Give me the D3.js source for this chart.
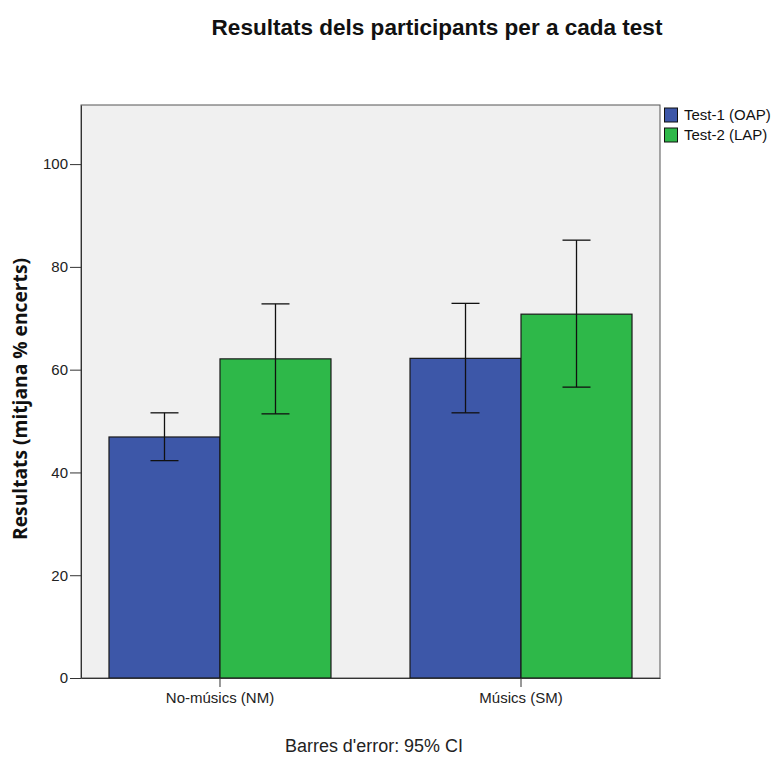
<!DOCTYPE html>
<html><head><meta charset="utf-8">
<script src="https://cdn.jsdelivr.net/npm/d3@7"></script>
<style>body{margin:0;background:#fff;} text{font-family:"Liberation Sans",Arial,sans-serif;}</style>
</head><body>
<svg id="c" width="775" height="758"></svg>
<script>
const categories = ["No-músics (NM)", "Músics (SM)"];
const seriesNames = ["Test-1 (OAP)", "Test-2 (LAP)"];
const seriesColors = ["#3d57a8", "#2eb849"];
const means = [[46.9, 62.1], [62.2, 70.8]];          // [category][series]
const ciLow = [[42.3, 51.4], [51.6, 56.6]];
const ciHigh = [[51.6, 72.8], [72.9, 85.2]];
const yTicks = [0, 20, 40, 60, 80, 100];

const svg = d3.select("#c");
const L = 81, R = 660, T = 105, B = 678;

const x = d3.scaleBand().domain(categories).range([L, R]).paddingInner(0.2625).paddingOuter(0.093);
const xs = d3.scaleBand().domain(seriesNames).range([0, x.bandwidth()]);
const y = d3.scaleLinear().domain([0, 111.5]).range([B, T]);

function fitWidth(sel, w) {
  const n = sel.node();
  const cur = n.getComputedTextLength();
  const fs = parseFloat(sel.attr("font-size"));
  sel.attr("font-size", fs * w / cur);
}

svg.append("rect").attr("x", L).attr("y", T).attr("width", R - L).attr("height", B - T)
  .attr("fill", "#f0f0f0").attr("stroke", "#555").attr("stroke-width", 1);

const g = svg.append("g");
categories.forEach((c, ci) => {
  seriesNames.forEach((s, si) => {
    const bx = x(c) + xs(s);
    g.append("rect").attr("x", bx).attr("y", y(means[ci][si]))
      .attr("width", xs.bandwidth()).attr("height", y(0) - y(means[ci][si]))
      .attr("fill", seriesColors[si]).attr("stroke", "#1a1a1a").attr("stroke-width", 1.2);
  });
});
categories.forEach((c, ci) => {
  seriesNames.forEach((s, si) => {
    const cx = x(c) + xs(s) + xs.bandwidth() / 2;
    const e = g.append("g").attr("stroke", "#111").attr("stroke-width", 1.3);
    e.append("line").attr("x1", cx).attr("x2", cx).attr("y1", y(ciLow[ci][si])).attr("y2", y(ciHigh[ci][si]));
    e.append("line").attr("x1", cx - 14).attr("x2", cx + 14).attr("y1", y(ciLow[ci][si])).attr("y2", y(ciLow[ci][si]));
    e.append("line").attr("x1", cx - 14).attr("x2", cx + 14).attr("y1", y(ciHigh[ci][si])).attr("y2", y(ciHigh[ci][si]));
  });
});

// y axis
const ya = svg.append("g").attr("transform", `translate(${L},0)`)
  .call(d3.axisLeft(y).tickValues(yTicks).tickSize(11).tickPadding(2).tickSizeOuter(0));
ya.select(".domain").attr("stroke", "#333");
ya.selectAll(".tick line").attr("stroke", "#333");
ya.selectAll(".tick text").attr("font-size", 15).attr("fill", "#222").attr("font-family", "Liberation Sans, Arial, sans-serif");

// x axis
const xa = svg.append("g").attr("transform", `translate(0,${B})`)
  .call(d3.axisBottom(x).tickSize(9).tickSizeOuter(0).tickPadding(5));
xa.select(".domain").attr("stroke", "#333");
xa.selectAll(".tick line").attr("stroke", "#333");
xa.selectAll(".tick text").attr("font-size", 15).attr("fill", "#222").attr("font-family", "Liberation Sans, Arial, sans-serif");

const title = svg.append("text").attr("x", 437).attr("y", 35).attr("text-anchor", "middle")
  .attr("font-size", 22).attr("font-weight", "bold").attr("fill", "#111")
  .text("Resultats dels participants per a cada test");
fitWidth(title, 451);

const yl = svg.append("text").attr("transform", `translate(27,399) rotate(-90)`)
  .attr("text-anchor", "middle").attr("font-size", 18).attr("font-weight", "bold").attr("fill", "#111")
  .style("font-family", "'Open Sans', 'DejaVu Sans', sans-serif")
  .text("Resultats (mitjana % encerts)");
fitWidth(yl, 282);

const ft = svg.append("text").attr("x", 374).attr("y", 752).attr("text-anchor", "middle")
  .attr("font-size", 17).attr("fill", "#222").text("Barres d'error: 95% CI");
fitWidth(ft, 178);

const lg = svg.append("g");
seriesNames.forEach((s, i) => {
  const yy = 108 + i * 20;
  lg.append("rect").attr("x", 664.5).attr("y", yy).attr("width", 13).attr("height", 14)
    .attr("fill", seriesColors[i]).attr("stroke", "#111").attr("stroke-width", 1);
  lg.append("text").attr("x", 684).attr("y", yy + 12).attr("font-size", 15).attr("fill", "#111").text(s);
});
</script>
</body></html>
